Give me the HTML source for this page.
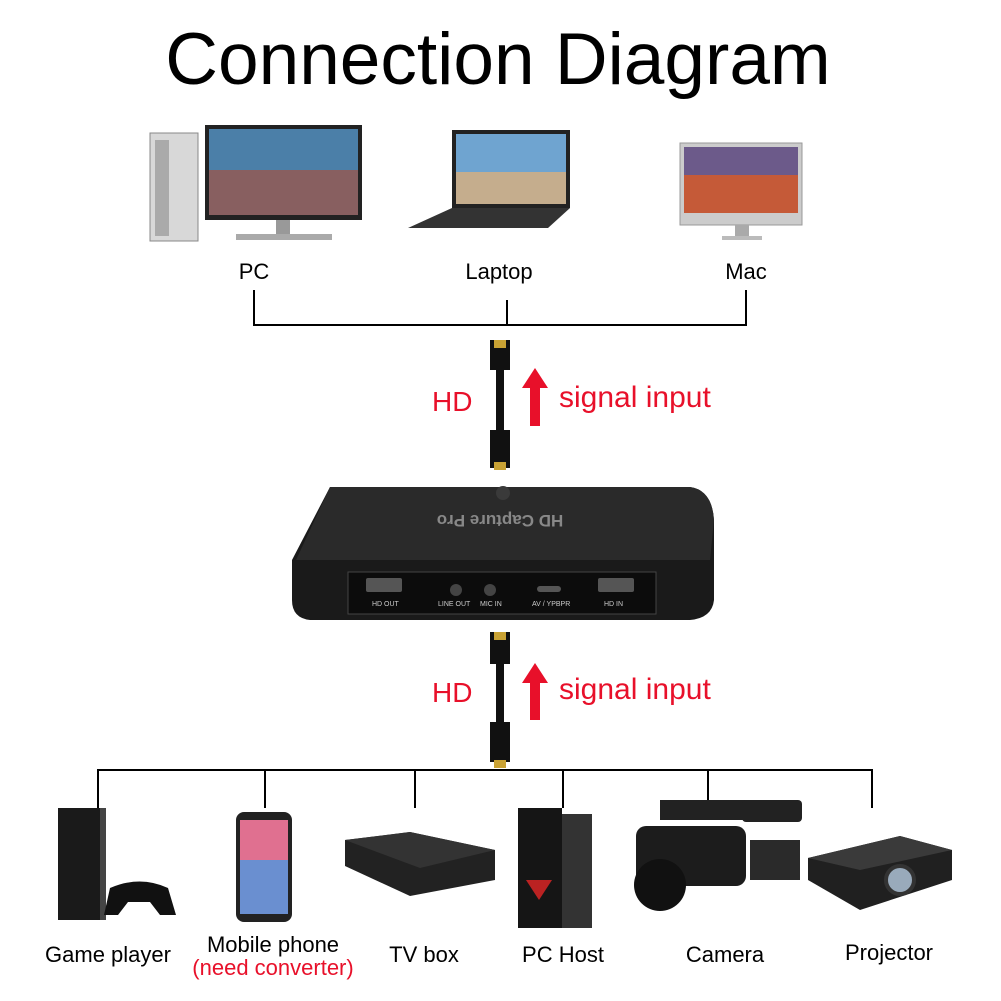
<!DOCTYPE html>
<html><head><meta charset="utf-8"><style>
body{margin:0;background:#fff;}
.c{position:relative;width:1001px;height:1001px;overflow:hidden;font-family:"Liberation Sans",sans-serif;}
.a{position:absolute;}
.t{position:absolute;white-space:nowrap;transform:translateX(-50%);}
</style></head><body><div class="c">
<div class="t" style="left:498px;top:18px;font-size:73px;color:#000;">Connection Diagram</div>

<svg class="a" style="left:0;top:0" width="1001" height="1001">
<rect x="150" y="133" width="48" height="108" fill="#d8d8d8" stroke="#888"/>
<rect x="155" y="140" width="14" height="96" fill="#aaa"/>
<rect x="205" y="125" width="157" height="95" fill="#222"/>
<rect x="209" y="129" width="149" height="86" fill="#4b7fa8"/>
<rect x="209" y="170" width="149" height="45" fill="#b04a30" opacity="0.6"/>
<rect x="276" y="220" width="14" height="14" fill="#999"/>
<rect x="236" y="234" width="96" height="6" fill="#aaa"/>
<rect x="452" y="130" width="118" height="78" fill="#222"/>
<rect x="456" y="134" width="110" height="70" fill="#6fa4d0"/>
<rect x="456" y="172" width="110" height="32" fill="#e9b070" opacity="0.7"/>
<polygon points="452,208 570,208 548,228 408,228" fill="#333"/>
<rect x="680" y="143" width="122" height="82" fill="#ccc" stroke="#999"/>
<rect x="684" y="147" width="114" height="66" fill="#c55a38"/>
<rect x="684" y="147" width="114" height="28" fill="#6c5a8a"/>
<rect x="735" y="225" width="14" height="12" fill="#aaa"/>
<rect x="722" y="236" width="40" height="4" fill="#bbb"/>
<g stroke="#000" stroke-width="2" fill="none">
<path d="M254 290V325H746V290M507 300V325"/>
<path d="M98 808V770H872V808M265 770V808M415 770V808M563 770V808M708 770V808"/>
</g>
<g>
<rect x="490" y="340" width="20" height="30" fill="#111"/><rect x="494" y="340" width="12" height="8" fill="#c9a234"/>
<rect x="496" y="370" width="8" height="60" fill="#111"/>
<rect x="490" y="430" width="20" height="38" fill="#111"/><rect x="494" y="462" width="12" height="8" fill="#c9a234"/>
<rect x="490" y="632" width="20" height="32" fill="#111"/><rect x="494" y="632" width="12" height="8" fill="#c9a234"/>
<rect x="496" y="664" width="8" height="58" fill="#111"/>
<rect x="490" y="722" width="20" height="40" fill="#111"/><rect x="494" y="760" width="12" height="8" fill="#c9a234"/>
</g>
<polygon points="535,368 548,388 540,388 540,426 530,426 530,388 522,388" fill="#e8102a"/>
<polygon points="535,663 548,683 540,683 540,720 530,720 530,683 522,683" fill="#e8102a"/>
<path d="M330 487 L690 487 Q712 490 714 520 L714 600 Q712 618 690 620 L310 620 Q292 618 292 600 L292 560 Z" fill="#1a1a1a"/>
<path d="M330 487 L690 487 Q712 490 714 520 L710 560 L296 560 Z" fill="#2a2a2a"/>
<circle cx="503" cy="493" r="7" fill="#3a3a3a"/>
<text x="500" y="525" font-family="Liberation Sans" font-size="17" font-weight="bold" fill="#888" text-anchor="middle" transform="rotate(180 500 520)">HD Capture Pro</text>
<rect x="348" y="572" width="308" height="42" fill="#0c0c0c" stroke="#444"/>
<rect x="366" y="578" width="36" height="14" rx="2" fill="#555"/>
<circle cx="456" cy="590" r="6" fill="#444"/><circle cx="490" cy="590" r="6" fill="#444"/>
<rect x="537" y="586" width="24" height="6" rx="3" fill="#555"/>
<rect x="598" y="578" width="36" height="14" rx="2" fill="#555"/>
<g font-family="Liberation Sans" font-size="7" fill="#ccc">
<text x="372" y="606">HD   OUT</text><text x="438" y="606">LINE OUT</text><text x="480" y="606">MIC IN</text><text x="532" y="606">AV / YPBPR</text><text x="604" y="606">HD   IN</text></g>
<rect x="58" y="808" width="42" height="112" fill="#1a1a1a"/>
<rect x="100" y="808" width="6" height="112" fill="#444"/>
<path d="M110 888 Q140 875 168 888 L176 915 L160 915 L150 902 L128 902 L118 915 L104 915 Z" fill="#111"/>
<rect x="236" y="812" width="56" height="110" rx="8" fill="#222"/>
<rect x="240" y="820" width="48" height="94" fill="#e07090"/>
<rect x="240" y="860" width="48" height="54" fill="#6a8fd0"/>
<path d="M345 840 L410 832 L495 850 L495 880 L410 896 L345 866 Z" fill="#222"/>
<path d="M345 840 L410 832 L495 850 L420 868 Z" fill="#333"/>
<rect x="518" y="808" width="44" height="120" fill="#151515"/>
<rect x="562" y="814" width="30" height="114" fill="#333"/>
<polygon points="526,880 552,880 539,900" fill="#b22"/>
<rect x="636" y="826" width="110" height="60" rx="10" fill="#1c1c1c"/>
<rect x="660" y="800" width="90" height="20" fill="#222"/>
<rect x="742" y="800" width="60" height="22" rx="4" fill="#222"/>
<circle cx="660" cy="885" r="26" fill="#111"/>
<rect x="750" y="840" width="50" height="40" fill="#2a2a2a"/>
<path d="M808 858 L900 836 L952 850 L952 880 L860 910 L808 880 Z" fill="#202020"/>
<path d="M808 858 L900 836 L952 850 L860 870 Z" fill="#3a3a3a"/>
<circle cx="900" cy="880" r="14" fill="#9ab" stroke="#333" stroke-width="4"/>
</svg>

<div class="t" style="left:254px;top:259px;font-size:22px;">PC</div>
<div class="t" style="left:499px;top:259px;font-size:22px;">Laptop</div>
<div class="t" style="left:746px;top:259px;font-size:22px;">Mac</div>

<div class="a" style="left:432px;top:386px;font-size:28px;color:#e8102a;">HD</div>
<div class="a" style="left:559px;top:381px;font-size:30px;color:#e8102a;">signal input</div>
<div class="a" style="left:432px;top:677px;font-size:28px;color:#e8102a;">HD</div>
<div class="a" style="left:559px;top:673px;font-size:30px;color:#e8102a;">signal input</div>

<div class="t" style="left:108px;top:942px;font-size:22px;">Game player</div>
<div class="t" style="left:273px;top:932px;font-size:22px;">Mobile phone</div>
<div class="t" style="left:273px;top:955px;font-size:22px;color:#e8102a;">(need converter)</div>
<div class="t" style="left:424px;top:942px;font-size:22px;">TV box</div>
<div class="t" style="left:563px;top:942px;font-size:22px;">PC Host</div>
<div class="t" style="left:725px;top:942px;font-size:22px;">Camera</div>
<div class="t" style="left:889px;top:940px;font-size:22px;">Projector</div>
</div></body></html>
